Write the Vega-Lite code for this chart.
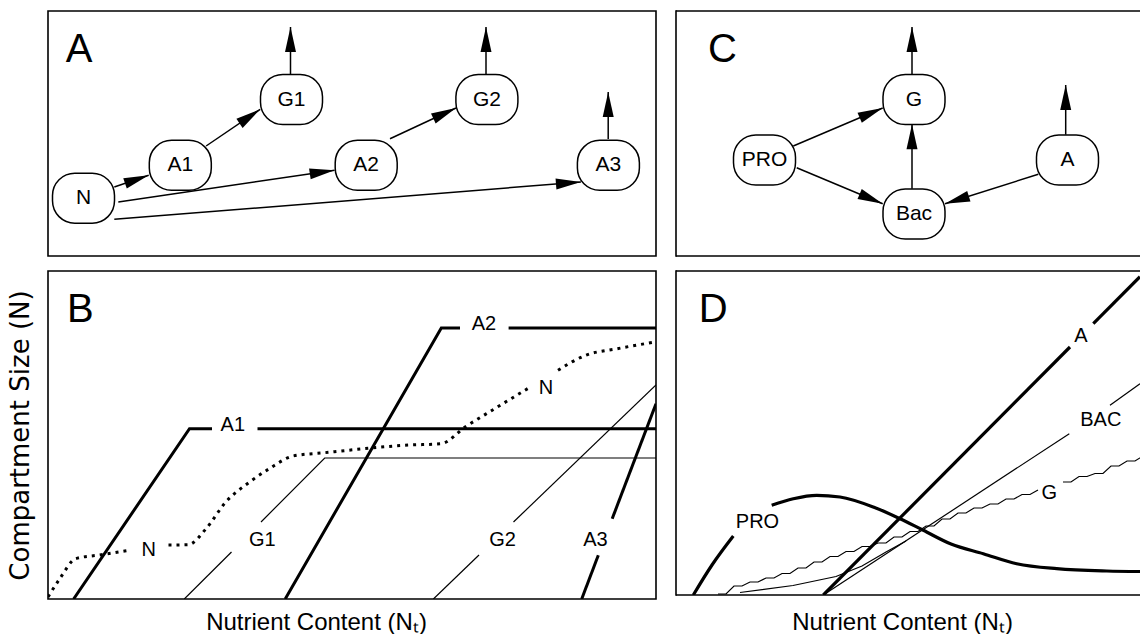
{
  "$schema": "https://vega.github.io/schema/vega-lite/v6.json",
  "autosize": {"type": "pad"},
  "padding": {"left": 6, "top": 9, "right": 0, "bottom": 0},
  "background": "white",
  "columns": 2,
  "spacing": {"row": 15, "column": 20},
  "bounds": "flush",
  "config": {
    "view": {"stroke": "#000", "strokeWidth": 1.6},
    "text": {"font": "Liberation Sans", "color": "#000"},
    "axis": {"labels": false, "ticks": false, "domain": false, "grid": false, "titleColor": "#000", "titleFontWeight": "normal"}
  },
  "datasets": {
    "letters": [
      {"panel": "A", "t": "A", "x": 1.77, "y": 19.4},
      {"panel": "C", "t": "C", "x": 3.2, "y": 19.4},
      {"panel": "B", "t": "B", "x": 1.89, "y": 27.7},
      {"panel": "D", "t": "D", "x": 2.27, "y": 27.3}
    ],
    "nodesA": [
      {"label": "N", "x": 3.55, "y": 5.78},
      {"label": "A1", "x": 13.23, "y": 9.07},
      {"label": "G1", "x": 24.35, "y": 15.65},
      {"label": "A2", "x": 31.82, "y": 9.07},
      {"label": "G2", "x": 43.89, "y": 15.65},
      {"label": "A3", "x": 56.04, "y": 9.07}
    ],
    "arrowsA": [
      {"x": 24.25, "y": 18.13, "x2": 24.25, "y2": 22.9},
      {"x": 43.8, "y": 18.13, "x2": 43.8, "y2": 22.9},
      {"x": 56.02, "y": 11.7, "x2": 56.02, "y2": 16.4},
      {"x": 6.63, "y": 6.9, "x2": 10.07, "y2": 8.07},
      {"x": 15.81, "y": 11.0, "x2": 21.22, "y2": 14.67},
      {"x": 7.03, "y": 5.4, "x2": 28.66, "y2": 8.57},
      {"x": 34.2, "y": 11.73, "x2": 40.8, "y2": 14.8},
      {"x": 6.63, "y": 3.67, "x2": 53.29, "y2": 7.4}
    ],
    "nodesC": [
      {"label": "G", "x": 23.8, "y": 15.65},
      {"label": "PRO", "x": 8.85, "y": 9.6},
      {"label": "Bac", "x": 23.8, "y": 4.2},
      {"label": "A", "x": 39.15, "y": 9.6}
    ],
    "arrowsC": [
      {"x": 23.6, "y": 18.13, "x2": 23.6, "y2": 22.9},
      {"x": 38.97, "y": 12.13, "x2": 38.97, "y2": 17.1},
      {"x": 11.73, "y": 11.0, "x2": 20.67, "y2": 14.8},
      {"x": 12.07, "y": 8.83, "x2": 20.67, "y2": 5.23},
      {"x": 23.6, "y": 6.73, "x2": 23.6, "y2": 13.17},
      {"x": 36.23, "y": 8.17, "x2": 26.9, "y2": 5.23}
    ],
    "linesB": [
      {"s": "A1", "g": "A1a", "x": 2.56, "y": 0},
      {"s": "A1", "g": "A1a", "x": 14.15, "y": 17.03},
      {"s": "A1", "g": "A1a", "x": 16.4, "y": 17.03},
      {"s": "A1", "g": "A1b", "x": 20.95, "y": 17.03},
      {"s": "A1", "g": "A1b", "x": 60.8, "y": 17.03},
      {"s": "A2", "g": "A2a", "x": 23.72, "y": 0},
      {"s": "A2", "g": "A2a", "x": 39.33, "y": 27.1},
      {"s": "A2", "g": "A2a", "x": 41.2, "y": 27.1},
      {"s": "A2", "g": "A2b", "x": 46.06, "y": 27.1},
      {"s": "A2", "g": "A2b", "x": 60.8, "y": 27.1},
      {"s": "A3", "g": "A3a", "x": 53.37, "y": 0},
      {"s": "A3", "g": "A3a", "x": 55.03, "y": 4.37},
      {"s": "A3", "g": "A3b", "x": 56.42, "y": 8.03},
      {"s": "A3", "g": "A3b", "x": 60.8, "y": 19.53},
      {"s": "G1", "g": "G1a", "x": 13.63, "y": 0},
      {"s": "G1", "g": "G1a", "x": 18.35, "y": 4.7},
      {"s": "G1", "g": "G1b", "x": 21.3, "y": 7.7},
      {"s": "G1", "g": "G1b", "x": 27.67, "y": 14.1},
      {"s": "G1", "g": "G1b", "x": 60.8, "y": 14.1},
      {"s": "G2", "g": "G2a", "x": 38.54, "y": 0},
      {"s": "G2", "g": "G2a", "x": 43.1, "y": 4.4},
      {"s": "G2", "g": "G2b", "x": 46.55, "y": 7.7},
      {"s": "G2", "g": "G2b", "x": 60.8, "y": 21.4},
      {"s": "N", "g": "N1", "x": 0, "y": 0.2},
      {"s": "N", "g": "N1", "x": 1.18, "y": 2.03},
      {"s": "N", "g": "N1", "x": 2.76, "y": 4.03},
      {"s": "N", "g": "N1", "x": 5.13, "y": 4.4},
      {"s": "N", "g": "N1", "x": 8.29, "y": 4.9},
      {"s": "N", "g": "N2", "x": 12.05, "y": 5.4},
      {"s": "N", "g": "N2", "x": 14.03, "y": 5.43},
      {"s": "N", "g": "N2", "x": 15.81, "y": 7.03},
      {"s": "N", "g": "N2", "x": 17.78, "y": 9.7},
      {"s": "N", "g": "N2", "x": 20.16, "y": 11.7},
      {"s": "N", "g": "N2", "x": 22.13, "y": 13.03},
      {"s": "N", "g": "N2", "x": 24.51, "y": 14.3},
      {"s": "N", "g": "N2", "x": 27.67, "y": 14.63},
      {"s": "N", "g": "N2", "x": 31.62, "y": 15.03},
      {"s": "N", "g": "N2", "x": 35.58, "y": 15.37},
      {"s": "N", "g": "N2", "x": 39.33, "y": 15.53},
      {"s": "N", "g": "N2", "x": 41.71, "y": 17.2},
      {"s": "N", "g": "N2", "x": 44.67, "y": 19.03},
      {"s": "N", "g": "N2", "x": 48.23, "y": 21.2},
      {"s": "N", "g": "N3", "x": 51.0, "y": 22.87},
      {"s": "N", "g": "N3", "x": 53.77, "y": 24.37},
      {"s": "N", "g": "N3", "x": 56.93, "y": 25.03},
      {"s": "N", "g": "N3", "x": 60.69, "y": 25.7}
    ],
    "labelsB": [
      {"t": "A1", "x": 18.48, "y": 17.37},
      {"t": "A2", "x": 43.6, "y": 27.53},
      {"t": "N", "x": 10.07, "y": 4.95},
      {"t": "N", "x": 49.8, "y": 21.12},
      {"t": "G1", "x": 21.44, "y": 5.95},
      {"t": "G2", "x": 45.46, "y": 5.95},
      {"t": "A3", "x": 54.75, "y": 5.95}
    ],
    "linesD": [
      {"s": "A", "g": "Aa", "x": 14.73, "y": 0},
      {"s": "A", "g": "Aa", "x": 39.4, "y": 24.8},
      {"s": "A", "g": "Ab", "x": 41.73, "y": 27.13},
      {"s": "A", "g": "Ab", "x": 46.4, "y": 31.83},
      {"s": "PRO", "g": "Pa", "x": 1.73, "y": 0},
      {"s": "PRO", "g": "Pa", "x": 3.6, "y": 3.0},
      {"s": "PRO", "g": "Pa", "x": 5.73, "y": 5.9},
      {"s": "PRO", "g": "Pb", "x": 9.57, "y": 8.97},
      {"s": "PRO", "g": "Pb", "x": 11.73, "y": 9.63},
      {"s": "PRO", "g": "Pb", "x": 14.07, "y": 9.97},
      {"s": "PRO", "g": "Pb", "x": 16.4, "y": 9.8},
      {"s": "PRO", "g": "Pb", "x": 19.73, "y": 8.8},
      {"s": "PRO", "g": "Pb", "x": 22.4, "y": 7.63},
      {"s": "PRO", "g": "Pb", "x": 24.73, "y": 6.47},
      {"s": "PRO", "g": "Pb", "x": 27.5, "y": 5.1},
      {"s": "PRO", "g": "Pb", "x": 30.73, "y": 4.13},
      {"s": "PRO", "g": "Pb", "x": 34.07, "y": 3.13},
      {"s": "PRO", "g": "Pb", "x": 38.07, "y": 2.63},
      {"s": "PRO", "g": "Pb", "x": 43.07, "y": 2.4},
      {"s": "PRO", "g": "Pb", "x": 46.4, "y": 2.35},
      {"s": "BAC", "g": "Ba", "x": 14.73, "y": 0},
      {"s": "BAC", "g": "Ba", "x": 39.33, "y": 16.13},
      {"s": "BAC", "g": "Bb", "x": 43.4, "y": 18.97},
      {"s": "BAC", "g": "Bb", "x": 46.4, "y": 21.13},
      {"s": "BAC2", "g": "Bc", "x": 6.4, "y": 0.25},
      {"s": "BAC2", "g": "Bc", "x": 11.7, "y": 0.95},
      {"s": "BAC2", "g": "Bc", "x": 16.0, "y": 1.85},
      {"s": "BAC2", "g": "Bc", "x": 18.6, "y": 2.9},
      {"s": "BAC2", "g": "Bc", "x": 21.0, "y": 4.3},
      {"s": "BAC2", "g": "Bc", "x": 23.0, "y": 5.4},
      {"s": "G", "g": "Ga", "x": 4.2, "y": 0.1},
      {"s": "G", "g": "Ga", "x": 5.0, "y": 0.1},
      {"s": "G", "g": "Ga", "x": 5.8, "y": 0.9},
      {"s": "G", "g": "Ga", "x": 6.6, "y": 0.9},
      {"s": "G", "g": "Ga", "x": 7.4, "y": 1.3},
      {"s": "G", "g": "Ga", "x": 8.2, "y": 1.3},
      {"s": "G", "g": "Ga", "x": 9.0, "y": 1.7},
      {"s": "G", "g": "Ga", "x": 9.8, "y": 1.7},
      {"s": "G", "g": "Ga", "x": 10.6, "y": 2.15},
      {"s": "G", "g": "Ga", "x": 11.4, "y": 2.15},
      {"s": "G", "g": "Ga", "x": 12.2, "y": 2.7},
      {"s": "G", "g": "Ga", "x": 13.0, "y": 2.7},
      {"s": "G", "g": "Ga", "x": 13.8, "y": 3.3},
      {"s": "G", "g": "Ga", "x": 14.6, "y": 3.3},
      {"s": "G", "g": "Ga", "x": 15.4, "y": 3.85},
      {"s": "G", "g": "Ga", "x": 16.2, "y": 3.85},
      {"s": "G", "g": "Ga", "x": 17.0, "y": 4.35},
      {"s": "G", "g": "Ga", "x": 17.8, "y": 4.35},
      {"s": "G", "g": "Ga", "x": 18.6, "y": 4.85},
      {"s": "G", "g": "Ga", "x": 19.4, "y": 4.85},
      {"s": "G", "g": "Ga", "x": 20.2, "y": 5.2},
      {"s": "G", "g": "Ga", "x": 21.0, "y": 5.2},
      {"s": "G", "g": "Ga", "x": 21.8, "y": 5.8},
      {"s": "G", "g": "Ga", "x": 22.6, "y": 5.8},
      {"s": "G", "g": "Ga", "x": 23.4, "y": 6.35},
      {"s": "G", "g": "Ga", "x": 24.2, "y": 6.35},
      {"s": "G", "g": "Ga", "x": 25.0, "y": 6.9},
      {"s": "G", "g": "Ga", "x": 25.8, "y": 6.9},
      {"s": "G", "g": "Ga", "x": 26.6, "y": 7.6},
      {"s": "G", "g": "Ga", "x": 27.4, "y": 7.6},
      {"s": "G", "g": "Ga", "x": 28.2, "y": 8.2},
      {"s": "G", "g": "Ga", "x": 29.0, "y": 8.2},
      {"s": "G", "g": "Ga", "x": 29.8, "y": 8.7},
      {"s": "G", "g": "Ga", "x": 30.6, "y": 8.7},
      {"s": "G", "g": "Ga", "x": 31.4, "y": 9.1},
      {"s": "G", "g": "Ga", "x": 32.2, "y": 9.1},
      {"s": "G", "g": "Ga", "x": 33.0, "y": 9.6},
      {"s": "G", "g": "Ga", "x": 33.8, "y": 9.6},
      {"s": "G", "g": "Ga", "x": 34.6, "y": 10.05},
      {"s": "G", "g": "Ga", "x": 35.4, "y": 10.05},
      {"s": "G", "g": "Ga", "x": 36.2, "y": 10.5},
      {"s": "G", "g": "Gb", "x": 38.7, "y": 11.3},
      {"s": "G", "g": "Gb", "x": 39.5, "y": 11.3},
      {"s": "G", "g": "Gb", "x": 40.3, "y": 11.85},
      {"s": "G", "g": "Gb", "x": 41.1, "y": 11.85},
      {"s": "G", "g": "Gb", "x": 41.9, "y": 12.15},
      {"s": "G", "g": "Gb", "x": 42.7, "y": 12.15},
      {"s": "G", "g": "Gb", "x": 43.5, "y": 12.9},
      {"s": "G", "g": "Gb", "x": 44.3, "y": 12.9},
      {"s": "G", "g": "Gb", "x": 45.1, "y": 13.4},
      {"s": "G", "g": "Gb", "x": 45.9, "y": 13.4},
      {"s": "G", "g": "Gb", "x": 46.7, "y": 13.9}
    ],
    "labelsD": [
      {"t": "PRO", "x": 8.15, "y": 7.3},
      {"t": "A", "x": 40.48, "y": 25.88},
      {"t": "BAC", "x": 42.48, "y": 17.55},
      {"t": "G", "x": 37.32, "y": 10.22}
    ]
  },
  "concat": [
    {
      "width": 608,
      "height": 245,
      "layer": [
        {
          "data": {"name": "arrowsA"},
          "mark": {"type": "rule", "stroke": "#000", "strokeWidth": 1.5},
          "encoding": {
            "x": {"field": "x", "type": "quantitative", "scale": {"domain": [0, 60.8], "nice": false}, "axis": null},
            "y": {"field": "y", "type": "quantitative", "scale": {"domain": [0, 24.5], "nice": false}, "axis": null},
            "x2": {"field": "x2"},
            "y2": {"field": "y2"}
          }
        },
        {
          "data": {"name": "arrowsA"},
          "transform": [{"calculate": "atan2(datum.x2 - datum.x, datum.y2 - datum.y) * 180 / PI", "as": "ang"}],
          "mark": {"type": "point", "shape": "M0,0L0.22,1L-0.22,1Z", "filled": true, "fill": "#000", "strokeWidth": 0, "size": 2500, "opacity": 1},
          "encoding": {
            "x": {"field": "x2", "type": "quantitative", "scale": {"domain": [0, 60.8], "nice": false}, "axis": null},
            "y": {"field": "y2", "type": "quantitative", "scale": {"domain": [0, 24.5], "nice": false}, "axis": null},
            "angle": {"field": "ang", "type": "quantitative", "scale": null}
          }
        },
        {
          "data": {"name": "nodesA"},
          "mark": {"type": "point", "shape": "M-0.28,-0.806L0.28,-0.806C0.678,-0.806 1,-0.484 1,-0.086L1,0.086C1,0.484 0.678,0.806 0.28,0.806L-0.28,0.806C-0.678,0.806 -1,0.484 -1,0.086L-1,-0.086C-1,-0.484 -0.678,-0.806 -0.28,-0.806Z", "size": 3844, "filled": true, "fill": "#fff", "stroke": "#000", "strokeWidth": 1.5, "opacity": 1},
          "encoding": {
            "x": {"field": "x", "type": "quantitative", "scale": {"domain": [0, 60.8], "nice": false}, "axis": null},
            "y": {"field": "y", "type": "quantitative", "scale": {"domain": [0, 24.5], "nice": false}, "axis": null}
          }
        },
        {
          "data": {"name": "nodesA"},
          "mark": {"type": "text", "fontSize": 21, "baseline": "middle", "align": "center"},
          "encoding": {
            "x": {"field": "x", "type": "quantitative", "scale": {"domain": [0, 60.8], "nice": false}, "axis": null},
            "y": {"field": "y", "type": "quantitative", "scale": {"domain": [0, 24.5], "nice": false}, "axis": null},
            "text": {"field": "label"}
          }
        },
        {
          "data": {"name": "letters"},
          "transform": [{"filter": "datum.panel === 'A'"}],
          "mark": {"type": "text", "fontSize": 40, "align": "left", "baseline": "alphabetic"},
          "encoding": {
            "x": {"field": "x", "type": "quantitative", "scale": {"domain": [0, 60.8], "nice": false}, "axis": null},
            "y": {"field": "y", "type": "quantitative", "scale": {"domain": [0, 24.5], "nice": false}, "axis": null},
            "text": {"field": "t"}
          }
        }
      ]
    },
    {
      "width": 464,
      "height": 245,
      "view": {"stroke": null},
      "layer": [
        {
          "data": {"values": [{}]},
          "mark": {"type": "rule", "stroke": "#000", "strokeWidth": 1.6},
          "encoding": {"y": {"datum": 24.5, "type": "quantitative", "scale": {"domain": [0, 24.5], "nice": false}, "axis": null}}
        },
        {
          "data": {"values": [{}]},
          "mark": {"type": "rule", "stroke": "#000", "strokeWidth": 1.6},
          "encoding": {"y": {"datum": 0, "type": "quantitative", "scale": {"domain": [0, 24.5], "nice": false}, "axis": null}}
        },
        {
          "data": {"values": [{}]},
          "mark": {"type": "rule", "stroke": "#000", "strokeWidth": 1.6, "strokeCap": "square"},
          "encoding": {"x": {"datum": 0, "type": "quantitative", "scale": {"domain": [0, 46.4], "nice": false}, "axis": null}}
        },
        {
          "data": {"name": "arrowsC"},
          "mark": {"type": "rule", "stroke": "#000", "strokeWidth": 1.5},
          "encoding": {
            "x": {"field": "x", "type": "quantitative", "scale": {"domain": [0, 46.4], "nice": false}, "axis": null},
            "y": {"field": "y", "type": "quantitative", "scale": {"domain": [0, 24.5], "nice": false}, "axis": null},
            "x2": {"field": "x2"},
            "y2": {"field": "y2"}
          }
        },
        {
          "data": {"name": "arrowsC"},
          "transform": [{"calculate": "atan2(datum.x2 - datum.x, datum.y2 - datum.y) * 180 / PI", "as": "ang"}],
          "mark": {"type": "point", "shape": "M0,0L0.22,1L-0.22,1Z", "filled": true, "fill": "#000", "strokeWidth": 0, "size": 2500, "opacity": 1},
          "encoding": {
            "x": {"field": "x2", "type": "quantitative", "scale": {"domain": [0, 46.4], "nice": false}, "axis": null},
            "y": {"field": "y2", "type": "quantitative", "scale": {"domain": [0, 24.5], "nice": false}, "axis": null},
            "angle": {"field": "ang", "type": "quantitative", "scale": null}
          }
        },
        {
          "data": {"name": "nodesC"},
          "mark": {"type": "point", "shape": "M-0.28,-0.806L0.28,-0.806C0.678,-0.806 1,-0.484 1,-0.086L1,0.086C1,0.484 0.678,0.806 0.28,0.806L-0.28,0.806C-0.678,0.806 -1,0.484 -1,0.086L-1,-0.086C-1,-0.484 -0.678,-0.806 -0.28,-0.806Z", "size": 3844, "filled": true, "fill": "#fff", "stroke": "#000", "strokeWidth": 1.5, "opacity": 1},
          "encoding": {
            "x": {"field": "x", "type": "quantitative", "scale": {"domain": [0, 46.4], "nice": false}, "axis": null},
            "y": {"field": "y", "type": "quantitative", "scale": {"domain": [0, 24.5], "nice": false}, "axis": null}
          }
        },
        {
          "data": {"name": "nodesC"},
          "mark": {"type": "text", "fontSize": 21, "baseline": "middle", "align": "center"},
          "encoding": {
            "x": {"field": "x", "type": "quantitative", "scale": {"domain": [0, 46.4], "nice": false}, "axis": null},
            "y": {"field": "y", "type": "quantitative", "scale": {"domain": [0, 24.5], "nice": false}, "axis": null},
            "text": {"field": "label"}
          }
        },
        {
          "data": {"name": "letters"},
          "transform": [{"filter": "datum.panel === 'C'"}],
          "mark": {"type": "text", "fontSize": 40, "align": "left", "baseline": "alphabetic"},
          "encoding": {
            "x": {"field": "x", "type": "quantitative", "scale": {"domain": [0, 46.4], "nice": false}, "axis": null},
            "y": {"field": "y", "type": "quantitative", "scale": {"domain": [0, 24.5], "nice": false}, "axis": null},
            "text": {"field": "t"}
          }
        }
      ]
    },
    {
      "width": 608,
      "height": 328,
      "layer": [
        {
          "data": {"name": "linesB"},
          "transform": [{"filter": {"field": "s", "oneOf": ["A1", "A2", "A3"]}}],
          "mark": {"type": "line", "stroke": "#000", "strokeWidth": 3, "clip": true},
          "encoding": {
            "x": {"field": "x", "type": "quantitative", "scale": {"domain": [0, 60.8], "nice": false},
              "axis": {"title": "Nutrient Content (Nₜ)", "titleFont": "Liberation Sans", "titleFontSize": 24, "titlePadding": 11, "titleX": 268}},
            "y": {"field": "y", "type": "quantitative", "scale": {"domain": [0, 32.8], "nice": false},
              "axis": {"title": "Compartment Size (N)", "titleFont": "DejaVu Sans", "titleFontSize": 26, "titlePadding": 15}},
            "detail": {"field": "g"}
          }
        },
        {
          "data": {"name": "linesB"},
          "transform": [{"filter": {"field": "s", "oneOf": ["G1", "G2"]}}],
          "mark": {"type": "line", "stroke": "#000", "strokeWidth": 1.2, "clip": true},
          "encoding": {
            "x": {"field": "x", "type": "quantitative", "scale": {"domain": [0, 60.8], "nice": false},
              "axis": {"title": "Nutrient Content (Nₜ)", "titleFont": "Liberation Sans", "titleFontSize": 24, "titlePadding": 11, "titleX": 268}},
            "y": {"field": "y", "type": "quantitative", "scale": {"domain": [0, 32.8], "nice": false},
              "axis": {"title": "Compartment Size (N)", "titleFont": "DejaVu Sans", "titleFontSize": 26, "titlePadding": 15}},
            "detail": {"field": "g"}
          }
        },
        {
          "data": {"name": "linesB"},
          "transform": [{"filter": {"field": "s", "equal": "N"}}],
          "mark": {"type": "line", "stroke": "#000", "strokeWidth": 3, "strokeDash": [3, 5], "interpolate": "monotone", "clip": true},
          "encoding": {
            "x": {"field": "x", "type": "quantitative", "scale": {"domain": [0, 60.8], "nice": false},
              "axis": {"title": "Nutrient Content (Nₜ)", "titleFont": "Liberation Sans", "titleFontSize": 24, "titlePadding": 11, "titleX": 268}},
            "y": {"field": "y", "type": "quantitative", "scale": {"domain": [0, 32.8], "nice": false},
              "axis": {"title": "Compartment Size (N)", "titleFont": "DejaVu Sans", "titleFontSize": 26, "titlePadding": 15}},
            "detail": {"field": "g"}
          }
        },
        {
          "data": {"name": "labelsB"},
          "mark": {"type": "text", "fontSize": 20, "baseline": "middle", "align": "center"},
          "encoding": {
            "x": {"field": "x", "type": "quantitative", "scale": {"domain": [0, 60.8], "nice": false},
              "axis": {"title": "Nutrient Content (Nₜ)", "titleFont": "Liberation Sans", "titleFontSize": 24, "titlePadding": 11, "titleX": 268}},
            "y": {"field": "y", "type": "quantitative", "scale": {"domain": [0, 32.8], "nice": false},
              "axis": {"title": "Compartment Size (N)", "titleFont": "DejaVu Sans", "titleFontSize": 26, "titlePadding": 15}},
            "text": {"field": "t"}
          }
        },
        {
          "data": {"name": "letters"},
          "transform": [{"filter": "datum.panel === 'B'"}],
          "mark": {"type": "text", "fontSize": 40, "align": "left", "baseline": "alphabetic"},
          "encoding": {
            "x": {"field": "x", "type": "quantitative", "scale": {"domain": [0, 60.8], "nice": false},
              "axis": {"title": "Nutrient Content (Nₜ)", "titleFont": "Liberation Sans", "titleFontSize": 24, "titlePadding": 11, "titleX": 268}},
            "y": {"field": "y", "type": "quantitative", "scale": {"domain": [0, 32.8], "nice": false},
              "axis": {"title": "Compartment Size (N)", "titleFont": "DejaVu Sans", "titleFontSize": 26, "titlePadding": 15}},
            "text": {"field": "t"}
          }
        }
      ]
    },
    {
      "width": 464,
      "height": 324,
      "view": {"stroke": null},
      "layer": [
        {
          "data": {"values": [{}]},
          "mark": {"type": "rule", "stroke": "#000", "strokeWidth": 1.6},
          "encoding": {"y": {"datum": 32.4, "type": "quantitative", "scale": {"domain": [0, 32.4], "nice": false}, "axis": null}}
        },
        {
          "data": {"values": [{}]},
          "mark": {"type": "rule", "stroke": "#000", "strokeWidth": 1.6},
          "encoding": {"y": {"datum": 0, "type": "quantitative", "scale": {"domain": [0, 32.4], "nice": false}, "axis": null}}
        },
        {
          "data": {"values": [{}]},
          "mark": {"type": "rule", "stroke": "#000", "strokeWidth": 1.6, "strokeCap": "square"},
          "encoding": {"x": {"datum": 0, "type": "quantitative", "scale": {"domain": [0, 46.4], "nice": false},
            "axis": {"title": "Nutrient Content (Nₜ)", "titleFont": "Liberation Sans", "titleFontSize": 24, "titlePadding": 15, "titleX": 226}}}
        },
        {
          "data": {"name": "linesD"},
          "transform": [{"filter": {"field": "s", "oneOf": ["A", "PRO"]}}],
          "mark": {"type": "line", "stroke": "#000", "strokeWidth": 3.2, "interpolate": "monotone", "clip": true},
          "encoding": {
            "x": {"field": "x", "type": "quantitative", "scale": {"domain": [0, 46.4], "nice": false},
              "axis": {"title": "Nutrient Content (Nₜ)", "titleFont": "Liberation Sans", "titleFontSize": 24, "titlePadding": 15, "titleX": 226}},
            "y": {"field": "y", "type": "quantitative", "scale": {"domain": [0, 32.4], "nice": false}, "axis": null},
            "detail": {"field": "g"}
          }
        },
        {
          "data": {"name": "linesD"},
          "transform": [{"filter": {"field": "s", "oneOf": ["BAC", "BAC2", "G"]}}],
          "mark": {"type": "line", "stroke": "#000", "strokeWidth": 1.2, "clip": true},
          "encoding": {
            "x": {"field": "x", "type": "quantitative", "scale": {"domain": [0, 46.4], "nice": false},
              "axis": {"title": "Nutrient Content (Nₜ)", "titleFont": "Liberation Sans", "titleFontSize": 24, "titlePadding": 15, "titleX": 226}},
            "y": {"field": "y", "type": "quantitative", "scale": {"domain": [0, 32.4], "nice": false}, "axis": null},
            "detail": {"field": "g"}
          }
        },
        {
          "data": {"name": "labelsD"},
          "mark": {"type": "text", "fontSize": 20, "baseline": "middle", "align": "center"},
          "encoding": {
            "x": {"field": "x", "type": "quantitative", "scale": {"domain": [0, 46.4], "nice": false},
              "axis": {"title": "Nutrient Content (Nₜ)", "titleFont": "Liberation Sans", "titleFontSize": 24, "titlePadding": 15, "titleX": 226}},
            "y": {"field": "y", "type": "quantitative", "scale": {"domain": [0, 32.4], "nice": false}, "axis": null},
            "text": {"field": "t"}
          }
        },
        {
          "data": {"name": "letters"},
          "transform": [{"filter": "datum.panel === 'D'"}],
          "mark": {"type": "text", "fontSize": 40, "align": "left", "baseline": "alphabetic"},
          "encoding": {
            "x": {"field": "x", "type": "quantitative", "scale": {"domain": [0, 46.4], "nice": false},
              "axis": {"title": "Nutrient Content (Nₜ)", "titleFont": "Liberation Sans", "titleFontSize": 24, "titlePadding": 15, "titleX": 226}},
            "y": {"field": "y", "type": "quantitative", "scale": {"domain": [0, 32.4], "nice": false}, "axis": null},
            "text": {"field": "t"}
          }
        }
      ]
    }
  ]
}
